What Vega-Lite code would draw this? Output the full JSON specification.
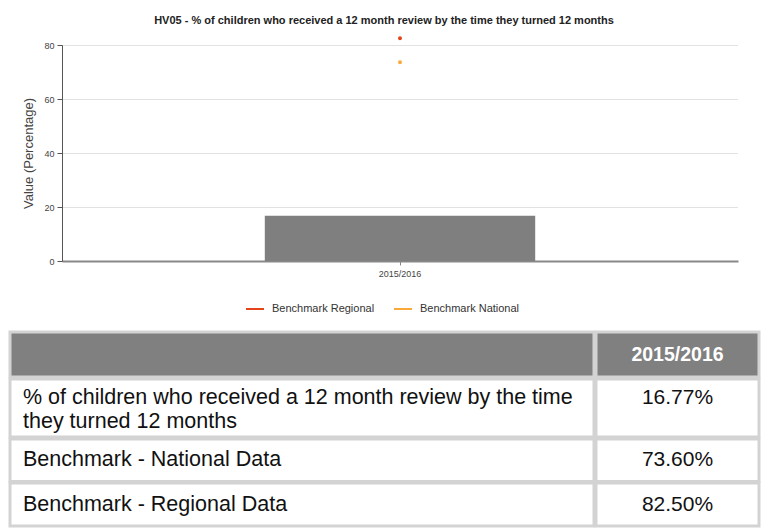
{
  "$schema": "https://vega.github.io/schema/vega-lite/v6.json",
  "background": "white",
  "padding": {"left": 8, "top": 15, "right": 0, "bottom": 0},
  "spacing": 52,
  "config": {"view": {"stroke": null}, "font": "Liberation Sans"},
  "datasets": {
    "chart": [
      {"year": "2015/2016", "kind": "bar", "series": "% of children who received a 12 month review by the time they turned 12 months", "value": 16.77},
      {"year": "2015/2016", "kind": "benchmark", "series": "Benchmark National", "value": 73.6},
      {"year": "2015/2016", "kind": "benchmark", "series": "Benchmark Regional", "value": 82.5}
    ],
    "table": [
      {"row": 0, "col": "label", "text": ""},
      {"row": 0, "col": "value", "text": "2015/2016"},
      {"row": 1, "col": "label", "text": "% of children who received a 12 month review by the time\nthey turned 12 months"},
      {"row": 1, "col": "value", "text": "16.77%"},
      {"row": 2, "col": "label", "text": "Benchmark - National Data"},
      {"row": 2, "col": "value", "text": "73.60%"},
      {"row": 3, "col": "label", "text": "Benchmark - Regional Data"},
      {"row": 3, "col": "value", "text": "82.50%"}
    ]
  },
  "vconcat": [
    {
      "spacing": 0,
      "hconcat": [
        {
          "width": 12,
          "height": 216,
          "data": {"name": "chart"},
          "transform": [{"filter": "datum.kind == 'none'"}],
          "mark": {"type": "text"},
          "encoding": {"text": {"field": "series"}}
        },
        {
          "width": 676,
          "height": 216,
          "data": {"name": "chart"},
          "title": {"text": "HV05 - % of children who received a 12 month review by the time they turned 12 months", "font": "Liberation Sans", "fontSize": 11, "fontWeight": "bold", "color": "#222222", "offset": 7, "dx": -16},
          "encoding": {
            "x": {"field": "year", "type": "nominal", "scale": {"paddingInner": 0, "paddingOuter": 0},
              "axis": {"title": null, "labelAngle": 0, "domainColor": "#888888", "domainWidth": 2, "tickColor": "#888888", "tickSize": 4, "labelFont": "Liberation Sans", "labelFontSize": 9, "labelColor": "#444444", "labelPadding": 4}},
            "y": {"field": "value", "type": "quantitative", "scale": {"domain": [0, 80], "nice": false},
              "axis": {"title": "Value (Percentage)", "values": [0, 20, 40, 60, 80], "gridDash": [1, 1], "gridColor": "#c4c4c4", "domainColor": "#555555", "tickColor": "#555555", "tickSize": 5, "labelFont": "Liberation Sans", "labelFontSize": 9, "labelColor": "#444444", "labelPadding": 3, "titleFont": "Liberation Sans", "titleFontSize": 13, "titleFontWeight": "normal", "titleColor": "#444444", "titlePadding": 8}}
          },
          "layer": [
            {
              "transform": [{"filter": "datum.kind == 'bar'"}],
              "mark": {"type": "bar", "color": "#7f7f7f", "width": {"band": 0.4}}
            },
            {
              "transform": [{"filter": "datum.kind == 'benchmark'"}],
              "mark": {"type": "point", "filled": false, "size": 4, "strokeWidth": 2, "opacity": 1},
              "encoding": {
                "color": {"field": "series", "type": "nominal",
                  "scale": {"domain": ["Benchmark Regional", "Benchmark National"], "range": ["#e4441c", "#f9a93a"]},
                  "legend": {"title": null, "orient": "none", "legendX": 235, "legendY": 254, "direction": "horizontal", "symbolType": "stroke", "symbolSize": 324, "symbolStrokeWidth": 2, "labelFont": "Liberation Sans", "labelFontSize": 11, "labelColor": "#333333", "columnPadding": 15, "labelOffset": 7, "padding": 0}
                }
              }
            }
          ]
        }
      ]
    },
    {
      "data": {"name": "table"},
      "spacing": -4,
      "vconcat": [
        {"spacing": -3, "hconcat": [
          {"width": 584, "height": 45, "view": {"fill": "#808080", "stroke": "#d3d3d3", "strokeWidth": 3},
           "transform": [{"filter": "datum.row == 0 && datum.col == 'label'"}],
           "mark": {"type": "text", "align": "left", "baseline": "middle", "fontSize": 21, "color": "white"},
           "encoding": {"text": {"field": "text"}}},
          {"width": 163, "height": 45, "view": {"fill": "#808080", "stroke": "#d3d3d3", "strokeWidth": 3},
           "transform": [{"filter": "datum.row == 0 && datum.col == 'value'"}],
           "mark": {"type": "text", "align": "center", "baseline": "middle", "fontSize": 19.5, "fontWeight": "bold", "color": "white"},
           "encoding": {"text": {"field": "text"}}}
        ]},
        {"spacing": -3, "hconcat": [
          {"width": 584, "height": 58, "view": {"fill": "white", "stroke": "#d3d3d3", "strokeWidth": 3},
           "transform": [{"filter": "datum.row == 1 && datum.col == 'label'"}],
           "mark": {"type": "text", "align": "left", "baseline": "middle", "fontSize": 21.5, "color": "#111111", "dx": 13, "dy": -10.5, "lineBreak": "\n", "lineHeight": 24},
           "encoding": {"text": {"field": "text"}, "x": {"field": "col", "type": "nominal", "scale": {"type": "point", "align": 0, "padding": 0}, "axis": null}}},
          {"width": 163, "height": 58, "view": {"fill": "white", "stroke": "#d3d3d3", "strokeWidth": 3},
           "transform": [{"filter": "datum.row == 1 && datum.col == 'value'"}],
           "mark": {"type": "text", "align": "center", "baseline": "middle", "fontSize": 21, "color": "#111111", "dy": -10.5},
           "encoding": {"text": {"field": "text"}}}
        ]},
        {"spacing": -3, "hconcat": [
          {"width": 584, "height": 42.5, "view": {"fill": "white", "stroke": "#d3d3d3", "strokeWidth": 3},
           "transform": [{"filter": "datum.row == 2 && datum.col == 'label'"}],
           "mark": {"type": "text", "align": "left", "baseline": "middle", "fontSize": 21.5, "color": "#111111", "dx": 13},
           "encoding": {"text": {"field": "text"}, "x": {"field": "col", "type": "nominal", "scale": {"type": "point", "align": 0, "padding": 0}, "axis": null}}},
          {"width": 163, "height": 42.5, "view": {"fill": "white", "stroke": "#d3d3d3", "strokeWidth": 3},
           "transform": [{"filter": "datum.row == 2 && datum.col == 'value'"}],
           "mark": {"type": "text", "align": "center", "baseline": "middle", "fontSize": 21, "color": "#111111"},
           "encoding": {"text": {"field": "text"}}}
        ]},
        {"spacing": -3, "hconcat": [
          {"width": 584, "height": 43, "view": {"fill": "white", "stroke": "#d3d3d3", "strokeWidth": 3},
           "transform": [{"filter": "datum.row == 3 && datum.col == 'label'"}],
           "mark": {"type": "text", "align": "left", "baseline": "middle", "fontSize": 21.5, "color": "#111111", "dx": 13},
           "encoding": {"text": {"field": "text"}, "x": {"field": "col", "type": "nominal", "scale": {"type": "point", "align": 0, "padding": 0}, "axis": null}}},
          {"width": 163, "height": 43, "view": {"fill": "white", "stroke": "#d3d3d3", "strokeWidth": 3},
           "transform": [{"filter": "datum.row == 3 && datum.col == 'value'"}],
           "mark": {"type": "text", "align": "center", "baseline": "middle", "fontSize": 21, "color": "#111111"},
           "encoding": {"text": {"field": "text"}}}
        ]}
      ]
    }
  ]
}
